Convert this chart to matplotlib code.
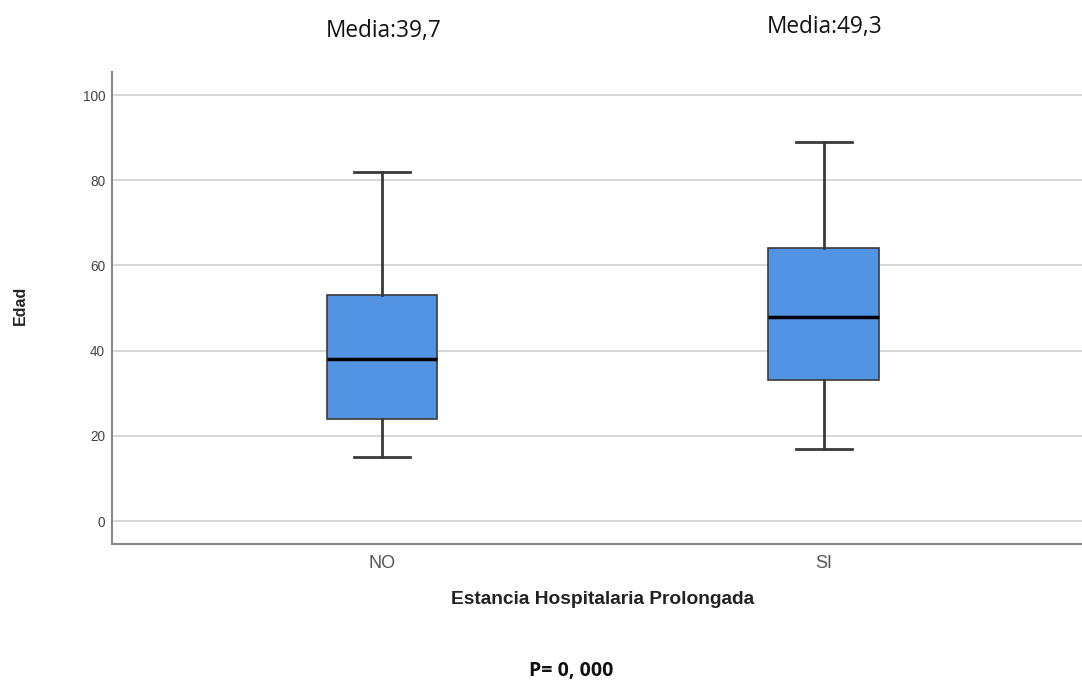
import matplotlib
matplotlib.use("Agg")
import matplotlib.pyplot as plt

categories = ["NO", "SI"]
whisker_low = [15, 17]
q1 = [24, 33]
medians = [38, 48]
q3 = [53, 64]
whisker_high = [82, 89]
mean_labels = ["Media:39,7", "Media:49,3"]
yticks = [0, 20, 40, 60, 80, 100]

stats = []
for i, c in enumerate(categories):
    stats.append(dict(label=c, whislo=whisker_low[i], q1=q1[i], med=medians[i],
                      q3=q3[i], whishi=whisker_high[i], fliers=[]))

fig = plt.figure(figsize=(10.82, 6.8), dpi=100)
ax = fig.add_axes([0.1035, 0.2, 0.8965, 0.694])

ax.bxp(stats, positions=[0, 1], widths=0.251, capwidths=0.125, patch_artist=True,
       boxprops=dict(facecolor="#5393E3", edgecolor="#3a3a3a", linewidth=1.2),
       medianprops=dict(color="#000000", linewidth=2.5),
       whiskerprops=dict(color="#3a3a3a", linewidth=2),
       capprops=dict(color="#3a3a3a", linewidth=2))

ax.set_xlim(-0.611, 1.584)
ax.set_ylim(-5.4, 105.4)
ax.set_yticks(yticks)
ax.set_yticklabels([str(t) for t in yticks], fontsize=9.8, color="#444444",
                   family="Liberation Sans")
ax.set_xticks([0, 1])
ax.set_xticklabels(categories, fontsize=13, color="#555555", family="Liberation Sans")
ax.tick_params(axis="y", length=0, pad=5)
ax.tick_params(axis="x", length=0, pad=8)
ax.yaxis.grid(True, color="#d4d4d4", linewidth=1.3)
ax.set_axisbelow(True)
for s in ["top", "right"]:
    ax.spines[s].set_visible(False)
for s in ["left", "bottom"]:
    ax.spines[s].set_color("#888888")
    ax.spines[s].set_linewidth(1.5)

fig.text(20 / 1082, 1 - 305 / 680, "Edad", rotation=90, fontsize=11.5, fontweight="bold",
         ha="center", va="center", color="#222222", family="Liberation Sans")
fig.text(603 / 1082, 1 - 599 / 680, "Estancia Hospitalaria Prolongada", fontsize=13.8,
         fontweight="bold", ha="center", va="center", color="#222222", family="Liberation Sans")
fig.text(571 / 1082, 1 - 671 / 680, "P= 0, 000", fontsize=14, fontweight="bold",
         ha="center", va="center", family="Open Sans", color="#111111")
fig.text(384 / 1082, 1 - 31 / 680, mean_labels[0], fontsize=16.3, ha="center", va="center",
         family="Open Sans", color="#111111")
fig.text(825 / 1082, 1 - 27 / 680, mean_labels[1], fontsize=16.3, ha="center", va="center",
         family="Open Sans", color="#111111")

fig.savefig("out.png", dpi=100)
